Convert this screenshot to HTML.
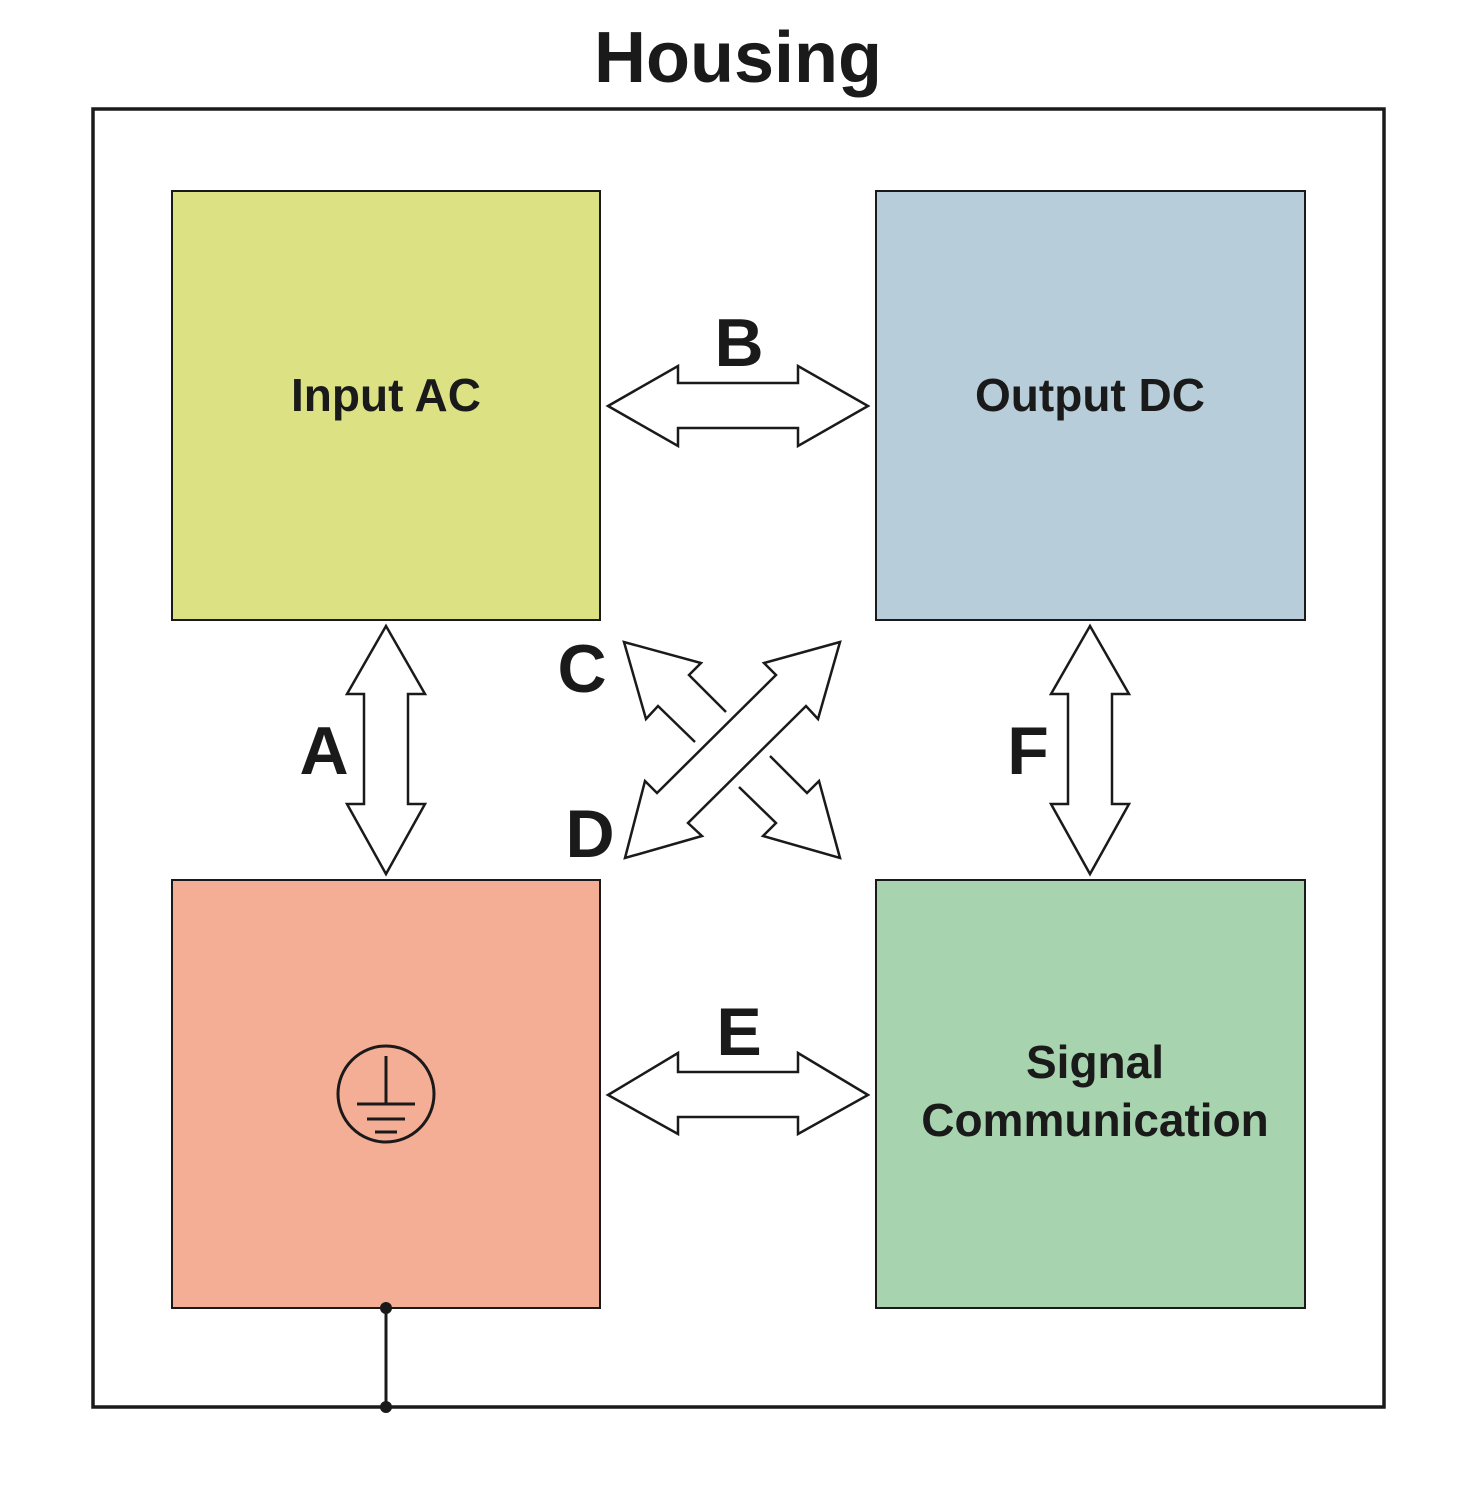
<!DOCTYPE html>
<html><head><style>body{margin:0;background:#fff}</style></head><body>
<svg width="1477" height="1500" viewBox="0 0 1477 1500" xmlns="http://www.w3.org/2000/svg" font-family="Liberation Sans, Arial, sans-serif" font-weight="bold">
<text x="738" y="82" font-size="72" text-anchor="middle" fill="#1a1a1a">Housing</text>
<rect x="93" y="109" width="1291" height="1298" fill="none" stroke="#1a1a1a" stroke-width="3.5"/>
<g stroke="#1a1a1a" stroke-width="2">
<rect x="172" y="191" width="428" height="429" fill="#dce283"/>
<rect x="876" y="191" width="429" height="429" fill="#b7cdd9"/>
<rect x="172" y="880" width="428" height="428" fill="#f4ae95"/>
<rect x="876" y="880" width="429" height="428" fill="#a7d3ae"/>
</g>
<g font-size="46" fill="#1a1a1a" text-anchor="middle">
<text x="386" y="411">Input AC</text>
<text x="1090" y="411">Output DC</text>
<text x="1095" y="1078">Signal</text>
<text x="1095" y="1136">Communication</text>
</g>
<g font-size="68" fill="#1a1a1a" text-anchor="middle">
<text x="739" y="366">B</text>
<text x="739" y="1055">E</text>
<text x="324" y="774">A</text>
<text x="1028" y="774">F</text>
<text x="582" y="692">C</text>
<text x="590" y="857">D</text>
</g>
<g fill="#fff" stroke="#1a1a1a" stroke-width="2.5" stroke-linejoin="miter">
<polygon points="608,406 678,366 678,383 798,383 798,366 868,406 798,446 798,428 678,428 678,446"/>
<polygon points="608,1095 678,1053 678,1072 798,1072 798,1053 868,1095 798,1134 798,1117 678,1117 678,1134"/>
<polygon points="386,626 425,694 408,694 408,804 425,804 386,874 347,804 364,804 364,694 347,694"/>
<polygon points="1090,626 1129,694 1112,694 1112,804 1129,804 1090,874 1051,804 1068,804 1068,694 1051,694"/>
<polyline fill="none" points="726,712 689,675 701,663 624,642 646,719 658,706 695,742"/>
<polyline fill="none" points="770,756 807,793 819,781 840,858 763,836 776,823 739,787"/>
<polygon points="840,642 764,663 776,675 657,793 645,781 625,858 702,836 688,823 806,706 818,719"/>
</g>
<g fill="none" stroke="#1a1a1a" stroke-width="3">
<circle cx="386" cy="1094" r="48"/>
<line x1="386" y1="1056" x2="386" y2="1104"/>
<line x1="357" y1="1104" x2="415" y2="1104"/>
<line x1="367" y1="1119" x2="405" y2="1119"/>
<line x1="375" y1="1132" x2="397" y2="1132"/>
<line x1="386" y1="1308" x2="386" y2="1407"/>
</g>
<circle cx="386" cy="1308" r="6" fill="#1a1a1a"/>
<circle cx="386" cy="1407" r="6" fill="#1a1a1a"/>
</svg>
</body></html>
